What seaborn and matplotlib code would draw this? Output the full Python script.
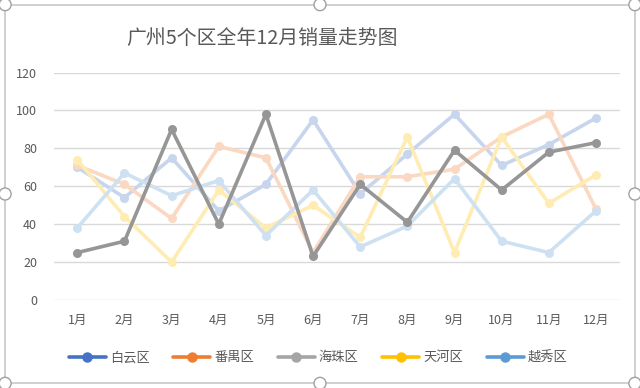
import numpy as np
import pandas as pd
import matplotlib
matplotlib.use('Agg')
import matplotlib.pyplot as plt
from matplotlib.lines import Line2D
from matplotlib.patches import Rectangle, Ellipse
from matplotlib.colors import to_rgb
import seaborn as sns

months = ['1月', '2月', '3月', '4月', '5月', '6月', '7月', '8月', '9月', '10月', '11月', '12月']
baiyun = [70, 54, 75, 47, 61, 95, 56, 77, 98, 71, 82, 96]
panyu = [71, 61, 43, 81, 75, 25, 65, 65, 69, 86, 98, 48]
haizhu = [25, 31, 90, 40, 98, 23, 61, 41, 79, 58, 78, 83]
tianhe = [74, 44, 20, 58, 38, 50, 33, 86, 25, 86, 51, 66]
yuexiu = [38, 67, 55, 63, 34, 58, 28, 39, 64, 31, 25, 47]

districts = ['白云区', '番禺区', '海珠区', '天河区', '越秀区']
colors = ['#4472C4', '#ED7D31', '#A5A5A5', '#FFC000', '#5B9BD5']


def fade(c, a=0.28):
    # 与白色混合得到淡化色
    r, g, b = to_rgb(c)
    return (1 - a + a * r, 1 - a + a * g, 1 - a + a * b)


def main():
    sns.set_style('white')
    plt.rcParams['font.family'] = ['Noto Sans CJK SC', 'DejaVu Sans']

    df = pd.DataFrame({'月份': months, '白云区': baiyun, '番禺区': panyu,
                       '海珠区': haizhu, '天河区': tianhe, '越秀区': yuexiu})
    df['x'] = np.arange(len(months))

    fig = plt.figure(figsize=(6.4, 3.88), dpi=100)
    ax = fig.add_axes([0.084, 0.227, 0.884, 0.586])

    # 海珠区突出显示，其余淡化
    for name, c in zip(districts, colors):
        if name == '海珠区':
            sns.lineplot(data=df, x='x', y=name, ax=ax, color='#969696', linewidth=2.6,
                         marker='o', markersize=6.5, markeredgewidth=0, zorder=5)
        else:
            sns.lineplot(data=df, x='x', y=name, ax=ax, color=fade(c, 0.3), linewidth=2.6,
                         marker='o', markersize=6.5, markeredgewidth=0, zorder=3)

    ax.set_xlim(-0.5, 11.5)
    ax.set_ylim(0, 120)
    ax.set_yticks(np.arange(0, 121, 20))
    ax.set_xticks(df['x'])
    ax.set_xticklabels(months)
    ax.set_xlabel('')
    ax.set_ylabel('')
    ax.grid(True, axis='y', color='#D9D9D9', linewidth=1)
    ax.set_axisbelow(True)
    for s in ax.spines.values():
        s.set_visible(False)
    ax.tick_params(axis='both', length=0, labelsize=9, colors='#595959', pad=10)
    ax.tick_params(axis='y', pad=12)

    fig.text(0.41, 0.9, '广州5个区全年12月销量走势图', ha='center', va='center',
             fontsize=14.3, color='#595959')

    handles = [Line2D([0], [0], color=c, linewidth=2.6, marker='o', markersize=6.5)
               for c in colors]
    fig.legend(handles, districts, loc='center', bbox_to_anchor=(0.497, 0.078), ncol=5,
               frameon=False, fontsize=9.5, handlelength=2.8, handletextpad=0.3,
               columnspacing=1.8, labelcolor='#595959')

    # 图表外框和选择手柄
    fig.add_artist(Rectangle((0.008, 0.012), 0.984, 0.976, transform=fig.transFigure,
                             fill=False, edgecolor='#C8C8C8', linewidth=1.2))
    for px, py in [(0.008, 0.988), (0.5, 0.988), (0.992, 0.988), (0.008, 0.5), (0.992, 0.5),
                   (0.008, 0.012), (0.5, 0.012), (0.992, 0.012)]:
        fig.add_artist(Ellipse((px, py), 12 / 640, 12 / 388, transform=fig.transFigure,
                               facecolor='white', edgecolor='#A0A0A0', linewidth=1))

    fig.savefig('out.png', dpi=100)
    plt.close('all')


if __name__ == '__main__':
    main()
